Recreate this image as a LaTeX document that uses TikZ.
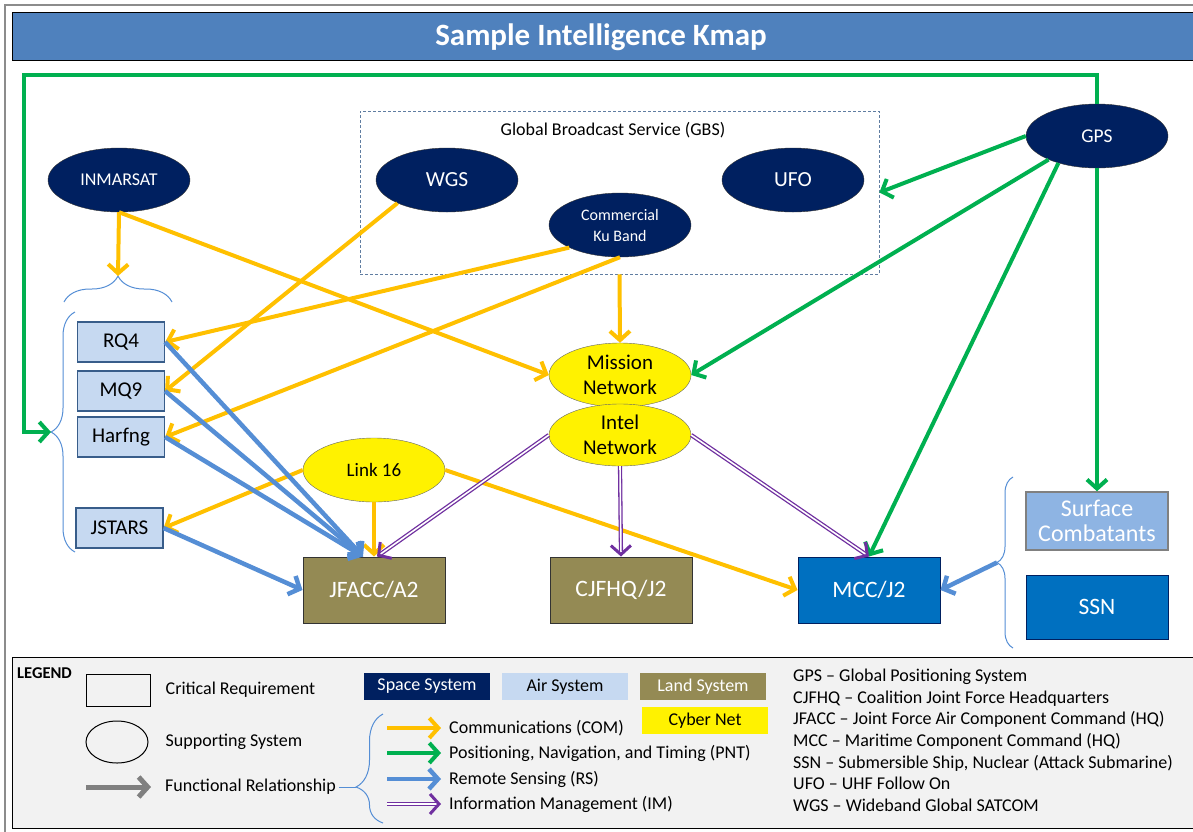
\documentclass[tikz,border=0pt]{standalone}
\usepackage{fontspec}
\setmainfont{Carlito}
\usetikzlibrary{shapes.geometric,arrows.meta,decorations.pathreplacing,positioning}
\definecolor{navy}{HTML}{002060}
\definecolor{titleblue}{HTML}{4F81BD}
\definecolor{airblue}{HTML}{C6D9F1}
\definecolor{airedge}{HTML}{385D8A}
\definecolor{olive}{HTML}{948A54}
\definecolor{seablue}{HTML}{0070C0}
\definecolor{surfblue}{HTML}{8EB4E3}
\definecolor{comc}{HTML}{FFC000}
\definecolor{pntc}{HTML}{00B050}
\definecolor{rsc}{HTML}{558ED5}
\definecolor{imc}{HTML}{7030A0}
\definecolor{legendgray}{HTML}{F2F2F2}
\tikzstyle{space}=[ellipse,draw=black!80,fill=navy,text=white,minimum width=142pt,minimum height=64pt,inner sep=0pt,align=center,font=\fontsize{18}{21}\selectfont]
\tikzstyle{cyber}=[ellipse,draw=black!60,fill=yellow,minimum width=142pt,minimum height=64pt,inner sep=0pt,align=center,font=\fontsize{21}{25}\selectfont]
\tikzstyle{air}=[rectangle,draw=airedge,line width=1.2pt,fill=airblue,minimum width=87pt,minimum height=40pt,font=\fontsize{21}{24}\selectfont]
\tikzstyle{land}=[rectangle,draw=black!80,line width=1pt,fill=olive,text=white,minimum width=142pt,minimum height=66pt,font=\fontsize{23.5}{27}\selectfont]
\tikzstyle{sea}=[land,draw=navy,fill=seablue]
\tikzstyle{surface}=[land,draw=black!50,line width=1.5pt,fill=surfblue,minimum height=58pt,align=center,font=\fontsize{24}{25}\selectfont]
\tikzstyle{gbs}=[rectangle,draw=airedge!80,line width=0.8pt,dash pattern=on 3pt off 2pt,minimum width=519pt,minimum height=163pt]
\tikzstyle{grp}=[draw=rsc,line width=1pt,decorate]
\tikzstyle{com}=[draw=comc,line width=4pt,-{Straight Barb[length=9pt,width=20pt]}]
\tikzstyle{pnt}=[draw=pntc,line width=4pt,-{Straight Barb[length=9pt,width=20pt]}]
\tikzstyle{rs}=[draw=rsc,line width=4.5pt,-{Straight Barb[length=9pt,width=20pt]}]
\tikzstyle{im}=[draw=imc,double=white,double distance=1.6pt,line width=1.3pt,-{Straight Barb[length=9pt,width=20pt,line width=3pt]}]
\tikzstyle{fr}=[draw=black!50,line width=5pt,-{Straight Barb[length=9pt,width=20pt]}]
\tikzstyle{legtext}=[anchor=west,inner sep=0pt,font=\fontsize{18}{21}\selectfont]
\tikzstyle{tag}=[rectangle,minimum width=126pt,minimum height=27pt,inner sep=0pt,font=\fontsize{18}{21}\selectfont]

\begin{document}
\begin{tikzpicture}[x=1pt,y=-1pt]
\useasboundingbox (0,0) rectangle (1193,831);
% frame and title
\draw[black!45,line width=2.5pt] (5,5) rectangle (1210,845);
\draw[black,line width=1pt,fill=titleblue] (12,12) rectangle (1210,60);
\node[text=white,font=\fontsize{31}{34}\bfseries\selectfont] (title) at (601,37) {Sample Intelligence Kmap};

% GBS group
\node[gbs] (gbs) at (619.5,192.5) {};
\node[font=\fontsize{18}{21}\selectfont] (gbslabel) at (613,130) {Global Broadcast Service (GBS)};

% space systems
\node[space] (inmarsat) at (119,180) {INMARSAT};
\node[space,font=\fontsize{21.5}{25}\selectfont] (wgs) at (447,180) {WGS};
\node[space,font=\fontsize{21.5}{25}\selectfont] (ufo) at (793,180) {UFO};
\node[space,font=\fontsize{16}{21}\selectfont] (ku) at (620,225) {Commercial\\Ku Band};
\node[space,font=\fontsize{19.5}{22}\selectfont] (gps) at (1097,136) {GPS};

% cyber nets
\node[cyber] (mission) at (620,375) {Mission\\Network};
\node[cyber,minimum height=62pt] (intel) at (620,435) {Intel\\Network};
\node[cyber,font=\fontsize{19}{22}\selectfont] (link) at (374,470) {Link 16};

% air systems
\path (121,342) node[air] (rq4) {RQ4}
    ++ (0,49) node[air] (mq9) {MQ9}
    ++ (0,46) node[air] (harfng) {Harfng};
\node[air] (jstars) at (119.5,528) {JSTARS};

% land and sea
\path (374,590) node[land] (jfacc) {JFACC/A2}
    ++ (247,0) node[land] (cjfhq) {CJFHQ/J2}
    ++ (248,0) node[sea] (mcc) {MCC/J2};
\path (1097,521) node[surface] (surf) {Surface\\Combatants}
    ++ (0,86) node[sea,minimum height=64pt] (ssn) {SSN};

% braces
\draw[grp,decoration={brace,amplitude=26pt}] (64,302) -- (172,302);
\coordinate (airtop) at (118,276);
\draw[grp,decoration={brace,amplitude=24pt}] (75,552) -- (75,312);
\coordinate (airleft) at (51,432);
\draw[grp,decoration={brace,amplitude=16pt}] (1013,648) -- (1013,477);
\coordinate (seatip) at (997,562.5);

% communications
\draw[com] (inmarsat.south) -- (airtop);
\draw[com] (inmarsat.south) -- (mission.west);
\draw[com] (wgs.205) -- (mq9.east);
\draw[com] (ku.204) -- (rq4.east);
\draw[com] (ku.south) -- (harfng.east);
\draw[com] (gbs.south) -- (mission.north);
\draw[com] (link.west) -- (jstars.east);
\draw[com] (link.south) -- (jfacc.north);
\draw[com] (link.east) -- (mcc.west);

% positioning, navigation, timing
\coordinate (gcorner) at (24,75);
\draw[pnt] (gps.north) |- (gcorner) |- (airleft);
\draw[pnt] (gps.west) -- (gbs.east);
\draw[pnt] (gps.206) -- (mission.east);
\draw[pnt] (gps.215) -- (mcc.north);
\draw[pnt] (gps.south) -- (surf.north);

% remote sensing
\draw[rs] (rq4.east) -- ([xshift=-11pt]jfacc.north);
\draw[rs] (mq9.east) -- ([xshift=-11pt]jfacc.north);
\draw[rs] (harfng.east) -- ([xshift=-11pt]jfacc.north);
\draw[rs] (jstars.east) -- (jfacc.west);
\draw[rs] (seatip) -- (mcc.east);

% information management
\draw[im] (intel.west) -- ([xshift=3pt]jfacc.north);
\draw[im] (intel.south) -- (cjfhq.north);
\draw[im] (intel.east) -- (mcc.north);

% legend
\node[draw=black,line width=1pt,fill=legendgray,anchor=north west,minimum width=1190pt,minimum height=171pt] (legend) at (12,657) {};
\node[anchor=west,inner sep=0pt,font=\fontsize{16.5}{18}\bfseries\selectfont] (legtitle) at (17,673) {LEGEND};
\node[draw=black,line width=1pt,minimum width=64pt,minimum height=32pt] (legcr) at (118,690) {};
\node[legtext,right=15pt of legcr] (legcrtext) {Critical Requirement};
\node[ellipse,draw=black,line width=1pt,minimum width=62pt,minimum height=42pt] (legss) at (117,742) {};
\node[legtext,right=17pt of legss] (legsstext) {Supporting System};
\node[legtext] (legfrtext) at (165,787) {Functional Relationship};
\coordinate (legfra) at (86,787);
\draw[fr] (legfra) -- ([xshift=-14pt]legfrtext.west);
\draw[grp,decoration={brace,amplitude=27pt,aspect=0.33}] (383,823) -- (383,714);
\coordinate (legtip) at (356,787);
\draw[draw=rsc,line width=1pt] ([xshift=3pt]legfrtext.east) -- (legtip);

\node[tag,fill=navy,text=white] (legspace) at (427,686.5) {Space System};
\node[tag,fill=airblue] (legair) at (565,686.5) {Air System};
\node[tag,fill=olive,text=white] (legland) at (703,686.5) {Land System};
\node[tag,fill=yellow] (legcyber) at (705,720.5) {Cyber Net};

\node[legtext] (legcom) at (449,728) {Communications (COM)};
\node[legtext] (legpnt) at (449,753) {Positioning, Navigation, and Timing (PNT)};
\node[legtext] (legrs) at (449,779) {Remote Sensing (RS)};
\node[legtext] (legim) at (449,804) {Information Management (IM)};
\draw[com] ([xshift=-62pt]legcom.west) -- ([xshift=-8pt]legcom.west);
\draw[pnt] ([xshift=-62pt]legpnt.west) -- ([xshift=-8pt]legpnt.west);
\draw[rs] ([xshift=-62pt]legrs.west) -- ([xshift=-8pt]legrs.west);
\draw[im] ([xshift=-62pt]legim.west) -- ([xshift=-8pt]legim.west);

\node[anchor=north west,inner sep=0pt,align=left,font=\fontsize{18}{21.6}\selectfont] (legabbr) at (793,669) {GPS – Global Positioning System\\
CJFHQ – Coalition Joint Force Headquarters\\
JFACC – Joint Force Air Component Command (HQ)\\
MCC – Maritime Component Command (HQ)\\
SSN – Submersible Ship, Nuclear (Attack Submarine)\\
UFO – UHF Follow On\\
WGS – Wideband Global SATCOM};
\end{tikzpicture}
\end{document}
